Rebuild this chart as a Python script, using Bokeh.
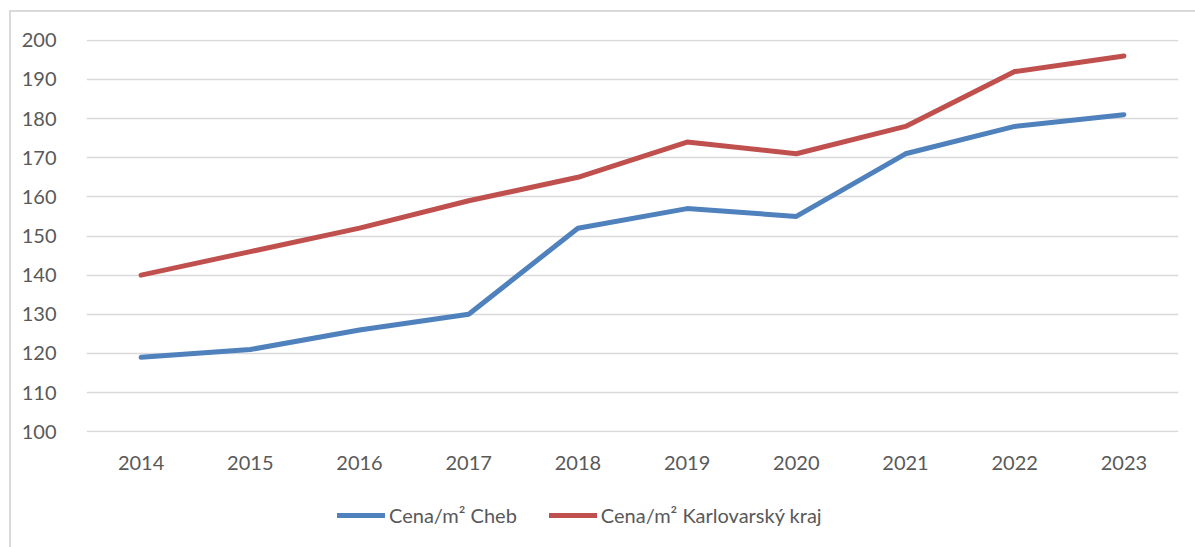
from bokeh.plotting import figure
from bokeh.layouts import column
from bokeh.models import Legend, LegendItem, FixedTicker, ColumnDataSource
from bokeh.embed import file_html
from bokeh.resources import INLINE

years = ["2014", "2015", "2016", "2017", "2018", "2019", "2020", "2021", "2022", "2023"]
cheb = [119, 121, 126, 130, 152, 157, 155, 171, 178, 181]
kraj = [140, 146, 152, 159, 165, 174, 171, 178, 192, 196]
y_ticks = [100, 110, 120, 130, 140, 150, 160, 170, 180, 190, 200]
labels = ["Cena/m² Cheb", "Cena/m² Karlovarský kraj"]

FONT = "Lato"
TXT = "#595959"
GRID = "#d9d9d9"
BLUE = "#4F81BD"
RED = "#C0504D"

src = ColumnDataSource(dict(x=years, cheb=cheb, kraj=kraj))

# main chart
p = figure(x_range=years, y_range=(99.8, 200.2), width=1184, height=479,
           output_backend="svg", toolbar_location=None,
           min_border_left=75, min_border_right=17, min_border_top=27, min_border_bottom=59)
p.outline_line_color = None
p.background_fill_color = "white"

p.line("x", "cheb", source=src, line_color=BLUE, line_width=5,
       line_cap="round", line_join="round")
p.line("x", "kraj", source=src, line_color=RED, line_width=5,
       line_cap="round", line_join="round")

p.yaxis.ticker = FixedTicker(ticks=y_ticks)
p.ygrid.ticker = FixedTicker(ticks=y_ticks)
p.ygrid.grid_line_color = GRID
p.ygrid.grid_line_width = 1.5
p.xgrid.grid_line_color = None

for ax in (p.xaxis[0], p.yaxis[0]):
    ax.axis_line_color = None
    ax.major_tick_line_color = None
    ax.minor_tick_line_color = None
    ax.major_label_text_font = FONT
    ax.major_label_text_font_size = "20px"
    ax.major_label_text_color = TXT
p.yaxis.major_label_standoff = 24
p.xaxis.major_label_standoff = 17

# legend strip (same series, drawn out of view so only the legend shows)
lg = figure(x_range=years, y_range=(0, 1), width=1184, height=57,
            output_backend="svg", toolbar_location=None,
            x_axis_location=None, y_axis_location=None,
            min_border=0, min_border_left=0, min_border_right=0,
            min_border_top=0, min_border_bottom=0)
lg.outline_line_color = None
lg.xgrid.grid_line_color = None
lg.ygrid.grid_line_color = None
l1 = lg.line("x", "cheb", source=src, line_color=BLUE, line_width=5, line_cap="round")
l2 = lg.line("x", "kraj", source=src, line_color=RED, line_width=5, line_cap="round")

legend = Legend(items=[LegendItem(label=labels[0], renderers=[l1]),
                       LegendItem(label=labels[1], renderers=[l2])],
                orientation="horizontal", location=(251, 21),
                label_text_font=FONT, label_text_font_size="20px", label_text_color=TXT,
                glyph_width=48, glyph_height=10, spacing=32, label_standoff=4,
                border_line_color=None, background_fill_alpha=0, margin=0, padding=0)
lg.add_layout(legend, "center")

layout = column(p, lg, spacing=0)
layout.styles = {"margin-left": "9px", "margin-top": "10px",
                 "border-left": "2px solid #d9d9d9", "border-top": "2px solid #d9d9d9"}

open("out.html", "w").write(file_html(layout, INLINE))
